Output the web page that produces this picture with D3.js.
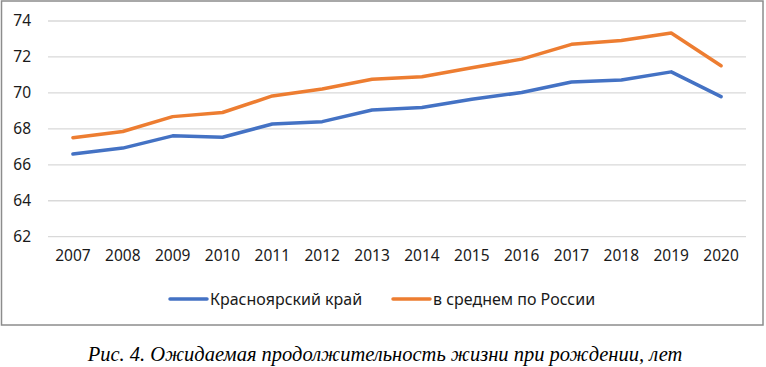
<!DOCTYPE html>
<html>
<head>
<meta charset="utf-8">
<script src="https://cdn.jsdelivr.net/npm/d3@7"></script>
<style>
  body { margin: 0; background: #fff; }
  svg { display: block; }
</style>
</head>
<body>
<div id="chart"></div>
<script>
const years = ["2007", "2008", "2009", "2010", "2011", "2012", "2013", "2014", "2015", "2016", "2017", "2018", "2019", "2020"];
const krasnoyarsk = [66.6, 66.93, 67.61, 67.53, 68.27, 68.4, 69.05, 69.19, 69.65, 70.02, 70.61, 70.72, 71.17, 69.79];
const russia = [67.51, 67.85, 68.68, 68.91, 69.83, 70.22, 70.76, 70.9, 71.4, 71.88, 72.7, 72.92, 73.33, 71.51];
const yTicks = [62, 64, 66, 68, 70, 72, 74];
const seriesNames = ["Красноярский край", "в среднем по России"];
const caption = "Рис. 4. Ожидаемая продолжительность жизни при рождении, лет";

const W = 766, H = 367;
const margin = { top: 21, left: 48, right: 20, bottom: 0 };
const plotW = 746 - margin.left;
const plotH = 236.7 - margin.top;

const svg = d3.select("#chart")
  .append("svg")
  .attr("width", W)
  .attr("height", H);

// outer frame
svg.append("rect")
  .attr("x", 1.5).attr("y", 1)
  .attr("width", 761.5).attr("height", 324)
  .attr("fill", "#fff")
  .attr("stroke", "#8c8c8c")
  .attr("stroke-width", 1.5);

const g = svg.append("g")
  .attr("transform", `translate(${margin.left},${margin.top})`);

const x = d3.scaleBand()
  .domain(years)
  .range([0, plotW]);

const y = d3.scaleLinear()
  .domain([62, 74])
  .range([plotH, 0]);

// gridlines
g.append("g")
  .selectAll("line")
  .data(yTicks)
  .join("line")
  .attr("x1", 0)
  .attr("x2", plotW)
  .attr("y1", d => y(d))
  .attr("y2", d => y(d))
  .attr("stroke", "#d9d9d9")
  .attr("stroke-width", 1.3);

const fontFam = "'Noto Sans', 'Open Sans', sans-serif";

// y axis
const yAxis = g.append("g")
  .attr("transform", "translate(-17,0)")
  .call(d3.axisLeft(y).tickValues(yTicks).tickSize(0).tickPadding(0));
yAxis.select(".domain").remove();
yAxis.selectAll("text")
  .attr("font-family", fontFam)
  .attr("font-size", 15.5)
  .attr("fill", "#1a1a1a");

// x axis
const xAxis = g.append("g")
  .attr("transform", `translate(0,${plotH + 13})`)
  .call(d3.axisBottom(x).tickSize(0).tickPadding(0));
xAxis.select(".domain").remove();
xAxis.selectAll("text")
  .attr("font-family", fontFam)
  .attr("font-size", 15.5)
  .attr("fill", "#1a1a1a");

const colors = ["#4472c4", "#ed7d31"];
const series = [krasnoyarsk, russia];

const line = d3.line()
  .x((d, i) => x(years[i]) + x.bandwidth() / 2)
  .y(d => y(d));

g.append("g")
  .selectAll("path")
  .data(series)
  .join("path")
  .attr("d", d => line(d))
  .attr("fill", "none")
  .attr("stroke", (d, i) => colors[i])
  .attr("stroke-width", 3.5)
  .attr("stroke-linejoin", "round")
  .attr("stroke-linecap", "round");

// legend
const legendX = [170, 393];
const legend = svg.append("g");
legend.selectAll("line")
  .data(seriesNames)
  .join("line")
  .attr("x1", (d, i) => legendX[i])
  .attr("x2", (d, i) => legendX[i] + 37)
  .attr("y1", 299)
  .attr("y2", 299)
  .attr("stroke", (d, i) => colors[i])
  .attr("stroke-width", 3.5)
  .attr("stroke-linecap", "round");
legend.selectAll("text")
  .data(seriesNames)
  .join("text")
  .attr("x", (d, i) => legendX[i] + 40)
  .attr("y", 299)
  .attr("dy", "0.35em")
  .attr("font-family", fontFam)
  .attr("font-size", 16)
  .attr("fill", "#1a1a1a")
  .text(d => d);

// caption
svg.append("text")
  .attr("x", 385)
  .attr("y", 361)
  .attr("text-anchor", "middle")
  .attr("font-family", "'Liberation Serif', 'DejaVu Serif', serif")
  .attr("font-style", "italic")
  .attr("font-size", 20.5)
  .attr("fill", "#000")
  .text(caption);
</script>
</body>
</html>
